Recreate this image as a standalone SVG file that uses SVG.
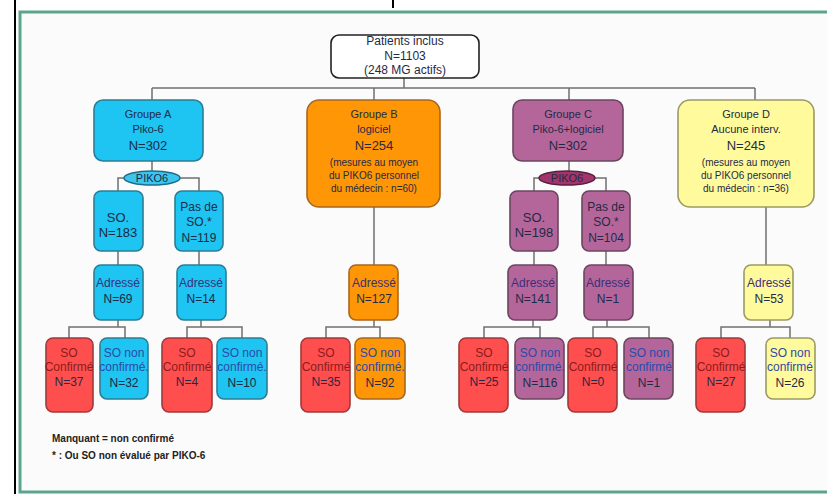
<svg xmlns="http://www.w3.org/2000/svg" width="827" height="494" viewBox="0 0 827 494">
<style>
text{font-family:"Liberation Sans","DejaVu Sans",sans-serif;text-anchor:middle;fill:#1f2a44}
.box{stroke-width:1.6}
.a{fill:#1ec4f2;stroke:#2c7d94}
.b{fill:#ff9606;stroke:#a8671c}
.c{fill:#b4669b;stroke:#6b4560}
.d{fill:#fffb9c;stroke:#9c9a62}
.r{fill:#ff4e4e;stroke:#9e3a3a}
.t1{font-size:11px}
.t2{font-size:13px}
.s{font-size:10px}
.m{font-size:12px}
.ad{fill:#3b2f7a}
.sc{fill:#8b1c1c}
.nc{fill:#2b4aa8}
.conn{fill:none;stroke:#707070;stroke-width:1.5}
.fn{font-size:10px;text-anchor:start;fill:#222;font-weight:bold}
</style>
<rect x="0" y="0" width="827" height="494" fill="#fff"/>
<rect x="20" y="12" width="820" height="480" fill="#fbfbfb" stroke="#5ba58f" stroke-width="3"/>
<line x1="15" y1="0" x2="15" y2="494" stroke="#000" stroke-width="2"/>
<line x1="393" y1="0" x2="393" y2="8" stroke="#000" stroke-width="2"/>

<g id="connectors" class="conn">
<path d="M404,78V88M152,88H755M152,88V100M374,88V100M569,88V100M755,88V100"/>
<path d="M152,161V172M118,191V178H199V191M118,251V265M199,251V265"/>
<path d="M118,320V327M69,338V327H125V338M201,320V327M187,338V327H242V338"/>
<path d="M374,207V265M374,320V327M326,338V327H380V338"/>
<path d="M569,161V172M534,191V178H606V191M534,251V265M606,251V265"/>
<path d="M533,320V327M484,338V327H540V338M607,320V327M593,338V327H649V338"/>
<path d="M766,207V265M770,320V327M721,338V327H790V338"/>
</g>

<g id="patients">
<rect x="331" y="35" width="148" height="43" rx="8" fill="#fff" stroke="#222" stroke-width="1.6"/>
<text x="405" y="45" class="m">Patients inclus</text>
<text x="405" y="60" class="m">N=1103</text>
<text x="405" y="74" class="m">(248 MG actifs)</text>
</g>

<g id="groupeA">
<rect class="box a" x="94" y="100" width="109" height="61" rx="9"/>
<text x="148" y="118" class="t1">Groupe A</text>
<text x="148" y="133" class="t1">Piko-6</text>
<text x="148" y="150" class="t2">N=302</text>
</g>
<g id="pikoA">
<ellipse cx="152" cy="178" rx="28" ry="7" fill="#3cc6ee" stroke="#1b6f8a" stroke-width="1.5"/>
<text x="152" y="182" class="t1">PIKO6</text>
</g>
<g id="soA">
<rect class="box a" x="94" y="191" width="49" height="60" rx="7"/>
<text x="118" y="222" class="t2">SO.</text>
<text x="118" y="237" class="t2">N=183</text>
</g>
<g id="pasA">
<rect class="box a" x="175" y="191" width="48" height="60" rx="7"/>
<text x="199" y="211" class="m">Pas de</text>
<text x="199" y="226" class="m">SO.*</text>
<text x="199" y="242" class="m">N=119</text>
</g>
<g id="adrA1">
<rect class="box a" x="94" y="265" width="49" height="55" rx="7"/>
<text x="118" y="287" class="m ad">Adressé</text>
<text x="118" y="303" class="m">N=69</text>
</g>
<g id="adrA2">
<rect class="box a" x="177" y="265" width="49" height="55" rx="7"/>
<text x="201" y="287" class="m ad">Adressé</text>
<text x="201" y="303" class="m">N=14</text>
</g>
<g id="confA1">
<rect class="box r" x="46" y="338" width="47" height="74" rx="7"/>
<text x="69" y="357" class="m sc">SO</text>
<text x="69" y="371" class="m sc">Confirmé</text>
<text x="69" y="386" class="m">N=37</text>
</g>
<g id="nonA1">
<rect class="box a" x="100" y="338" width="48" height="61" rx="7"/>
<text x="124" y="357" class="m nc">SO non</text>
<text x="124" y="371" class="m nc">confirmé.</text>
<text x="124" y="387" class="m">N=32</text>
</g>
<g id="confA2">
<rect class="box r" x="162" y="338" width="50" height="74" rx="7"/>
<text x="187" y="357" class="m sc">SO</text>
<text x="187" y="371" class="m sc">Confirmé</text>
<text x="187" y="386" class="m">N=4</text>
</g>
<g id="nonA2">
<rect class="box a" x="217" y="338" width="50" height="61" rx="7"/>
<text x="242" y="357" class="m nc">SO non</text>
<text x="242" y="371" class="m nc">confirmé.</text>
<text x="242" y="387" class="m">N=10</text>
</g>

<g id="groupeB">
<rect class="box b" x="307" y="100" width="133" height="107" rx="12"/>
<text x="374" y="118" class="t1">Groupe B</text>
<text x="374" y="133" class="t1">logiciel</text>
<text x="374" y="150" class="t2">N=254</text>
<text x="374" y="166" class="s">(mesures au moyen</text>
<text x="374" y="179" class="s">du PIKO6 personnel</text>
<text x="374" y="192" class="s">du médecin : n=60)</text>
</g>
<g id="adrB">
<rect class="box b" x="349" y="265" width="49" height="55" rx="7"/>
<text x="374" y="287" class="m ad">Adressé</text>
<text x="374" y="303" class="m">N=127</text>
</g>
<g id="confB">
<rect class="box r" x="301" y="338" width="49" height="74" rx="7"/>
<text x="326" y="357" class="m sc">SO</text>
<text x="326" y="371" class="m sc">Confirmé</text>
<text x="326" y="386" class="m">N=35</text>
</g>
<g id="nonB">
<rect class="box b" x="355" y="338" width="50" height="61" rx="7"/>
<text x="380" y="357" class="m nc">SO non</text>
<text x="380" y="371" class="m nc">confirmé.</text>
<text x="380" y="387" class="m">N=92</text>
</g>

<g id="groupeC">
<rect class="box c" x="513" y="100" width="110" height="61" rx="9"/>
<text x="568" y="118" class="t1">Groupe C</text>
<text x="568" y="133" class="t1">Piko-6+logiciel</text>
<text x="568" y="150" class="t2">N=302</text>
</g>
<g id="pikoC">
<ellipse cx="567" cy="178" rx="28" ry="7" fill="#a2356a" stroke="#5b2040" stroke-width="1.5"/>
<text x="567" y="182" class="t1" fill="#2a1020">PIKO6</text>
</g>
<g id="soC">
<rect class="box c" x="510" y="191" width="48" height="60" rx="7"/>
<text x="534" y="222" class="t2">SO.</text>
<text x="534" y="237" class="t2">N=198</text>
</g>
<g id="pasC">
<rect class="box c" x="582" y="191" width="48" height="60" rx="7"/>
<text x="606" y="211" class="m">Pas de</text>
<text x="606" y="226" class="m">SO.*</text>
<text x="606" y="242" class="m">N=104</text>
</g>
<g id="adrC1">
<rect class="box c" x="508" y="265" width="49" height="55" rx="7"/>
<text x="533" y="287" class="m ad">Adressé</text>
<text x="533" y="303" class="m">N=141</text>
</g>
<g id="adrC2">
<rect class="box c" x="584" y="265" width="49" height="55" rx="7"/>
<text x="608" y="287" class="m ad">Adressé</text>
<text x="608" y="303" class="m">N=1</text>
</g>
<g id="confC1">
<rect class="box r" x="459" y="338" width="49" height="74" rx="7"/>
<text x="484" y="357" class="m sc">SO</text>
<text x="484" y="371" class="m sc">Confirmé</text>
<text x="484" y="386" class="m">N=25</text>
</g>
<g id="nonC1">
<rect class="box c" x="515" y="338" width="49" height="61" rx="7"/>
<text x="540" y="357" class="m nc">SO non</text>
<text x="540" y="371" class="m nc">confirmé.</text>
<text x="540" y="387" class="m">N=116</text>
</g>
<g id="confC2">
<rect class="box r" x="568" y="338" width="49" height="74" rx="7"/>
<text x="593" y="357" class="m sc">SO</text>
<text x="593" y="371" class="m sc">Confirmé</text>
<text x="593" y="386" class="m">N=0</text>
</g>
<g id="nonC2">
<rect class="box c" x="624" y="338" width="49" height="61" rx="7"/>
<text x="649" y="357" class="m nc">SO non</text>
<text x="649" y="371" class="m nc">confirmé</text>
<text x="649" y="387" class="m">N=1</text>
</g>

<g id="groupeD">
<rect class="box d" x="678" y="100" width="136" height="107" rx="12"/>
<text x="746" y="118" class="t1">Groupe D</text>
<text x="746" y="133" class="t1">Aucune interv.</text>
<text x="746" y="150" class="t2">N=245</text>
<text x="746" y="166" class="s">(mesures au moyen</text>
<text x="746" y="179" class="s">du PIKO6 personnel</text>
<text x="746" y="192" class="s">du médecin : n=36)</text>
</g>
<g id="adrD">
<rect class="box d" x="744" y="265" width="49" height="55" rx="7"/>
<text x="769" y="287" class="m ad">Adressé</text>
<text x="769" y="303" class="m">N=53</text>
</g>
<g id="confD">
<rect class="box r" x="696" y="338" width="49" height="74" rx="7"/>
<text x="721" y="357" class="m sc">SO</text>
<text x="721" y="371" class="m sc">Confirmé</text>
<text x="721" y="386" class="m">N=27</text>
</g>
<g id="nonD">
<rect class="box d" x="766" y="338" width="49" height="61" rx="7"/>
<text x="790" y="357" class="m nc">SO non</text>
<text x="790" y="371" class="m nc">confirmé</text>
<text x="790" y="387" class="m">N=26</text>
</g>

<g id="notes">
<text x="52" y="442" class="fn">Manquant = non confirmé</text>
<text x="52" y="459" class="fn">* : Ou SO non évalué par PIKO-6</text>
</g>
</svg>
